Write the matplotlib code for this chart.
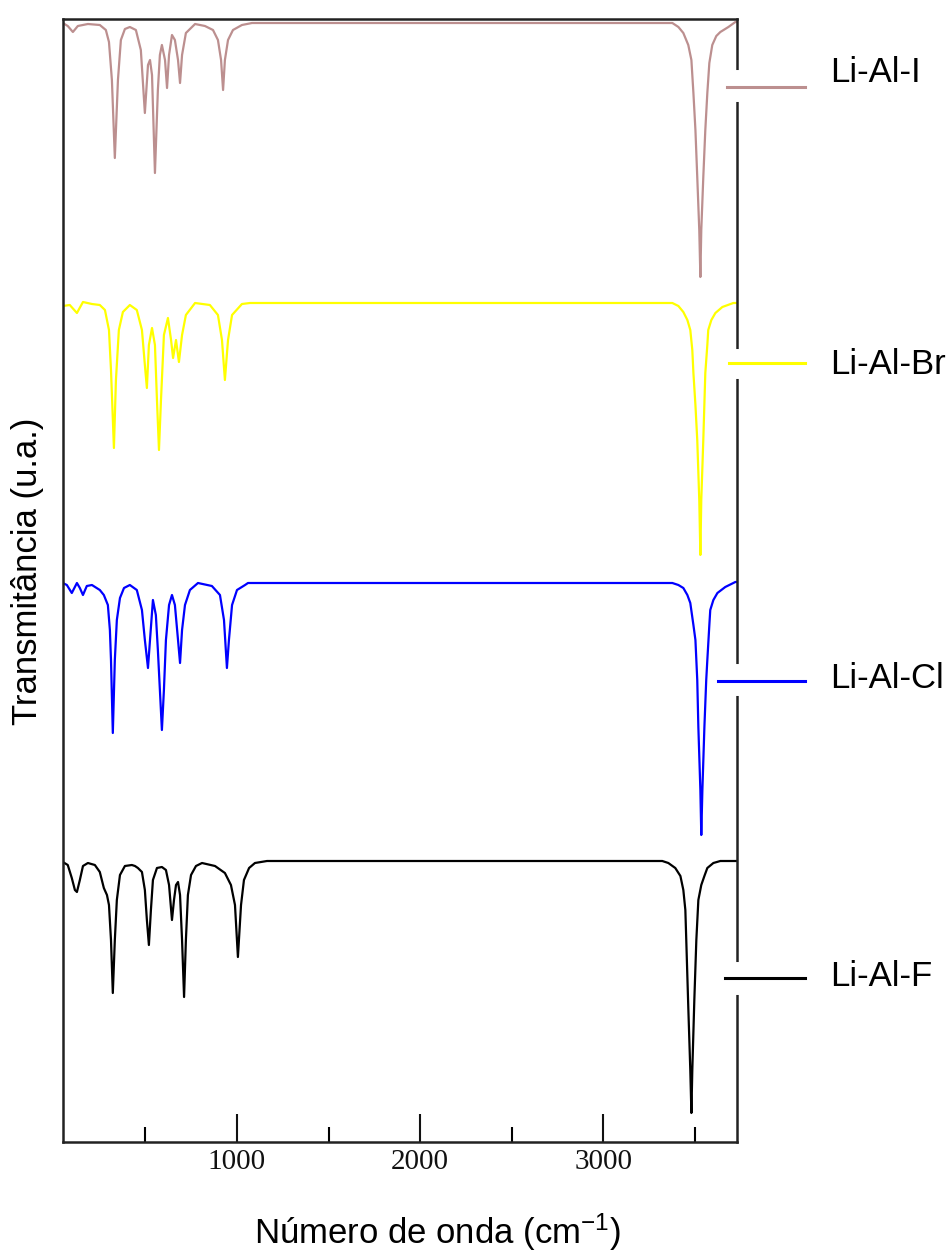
import matplotlib
matplotlib.use("Agg")
import matplotlib.pyplot as plt
from matplotlib.lines import Line2D
import numpy as np

plt.rcParams['font.family'] = ['Liberation Sans', 'DejaVu Sans']
plt.rcParams['mathtext.fontset'] = 'custom'
plt.rcParams['mathtext.rm'] = 'Liberation Sans'
plt.rcParams['mathtext.it'] = 'Liberation Sans'

# ---------------- data (wavenumber cm-1, relative transmittance) ----------------
labels = ["Li-Al-I", "Li-Al-Br", "Li-Al-Cl", "Li-Al-F"]
colors = ["#BC8F8F", "#FFFF00", "#0000FF", "#000000"]
offsets = [11.19, 8.39, 5.59, 2.80]

wn_I = [49, 76, 104, 131, 186, 251, 284, 301, 317, 333, 350, 366, 388, 415, 448, 475, 497, 514,
        525, 536, 552, 568, 579, 590, 607, 618, 629, 645, 661, 678, 689, 700, 721, 771, 825, 869,
        896, 913, 924, 934, 951, 978, 1027, 1082, 3377, 3410, 3437, 3464, 3481, 3492, 3503, 3513,
        3524, 3530, 3535, 3546, 3557, 3568, 3579, 3595, 3617, 3639, 3683, 3721, 3732]
t_I = [0, -0.03, -0.09, -0.03, -0.01, -0.02, -0.07, -0.19, -0.57, -1.35, -0.57, -0.17, -0.06, -0.04,
       -0.07, -0.27, -0.90, -0.42, -0.37, -0.52, -1.50, -0.67, -0.32, -0.22, -0.37, -0.65, -0.32,
       -0.12, -0.17, -0.37, -0.60, -0.32, -0.10, -0.01, -0.03, -0.07, -0.17, -0.37, -0.67, -0.37,
       -0.17, -0.07, -0.02, 0, 0, -0.04, -0.10, -0.22, -0.37, -0.70, -1.07, -1.54, -2.07, -2.54,
       -2.07, -1.54, -1.07, -0.70, -0.40, -0.22, -0.13, -0.09, -0.04, 0.01, 0.01]

wn_Br = [49, 87, 126, 159, 208, 251, 279, 301, 312, 328, 339, 355, 377, 415, 453, 481, 497, 508,
         519, 536, 552, 563, 574, 585, 601, 623, 640, 651, 667, 683, 700, 721, 771, 852, 896, 918,
         934, 951, 973, 1027, 1071, 3377, 3410, 3437, 3459, 3475, 3486, 3492, 3503, 3513, 3524,
         3530, 3535, 3546, 3557, 3568, 3573, 3590, 3612, 3650, 3710, 3732]
t_Br = [-0.03, -0.02, -0.10, 0.01, -0.01, -0.02, -0.07, -0.27, -0.67, -1.45, -0.77, -0.27, -0.09,
        -0.02, -0.07, -0.27, -0.62, -0.85, -0.42, -0.25, -0.42, -0.97, -1.47, -0.97, -0.32, -0.15,
        -0.37, -0.55, -0.37, -0.59, -0.32, -0.12, 0, -0.02, -0.12, -0.37, -0.77, -0.37, -0.12,
        -0.01, 0, 0, -0.03, -0.09, -0.17, -0.27, -0.47, -0.70, -1.02, -1.37, -1.97, -2.52, -1.97,
        -1.37, -0.70, -0.42, -0.27, -0.17, -0.10, -0.04, 0, 0]

wn_Cl = [49, 71, 98, 126, 142, 159, 180, 208, 251, 273, 295, 306, 312, 322, 333, 344, 361, 383,
         415, 453, 481, 497, 514, 525, 541, 557, 568, 579, 590, 601, 612, 629, 645, 661, 678, 689,
         700, 716, 743, 787, 863, 907, 929, 945, 956, 973, 1000, 1044, 1060, 3377, 3410, 3437,
         3459, 3475, 3492, 3503, 3513, 3519, 3530, 3535, 3541, 3552, 3562, 3568, 3579, 3584, 3601,
         3623, 3666, 3721, 3732]
t_Cl = [0, -0.02, -0.10, 0, -0.05, -0.12, -0.03, -0.02, -0.07, -0.12, -0.22, -0.47, -0.77, -1.50,
        -0.77, -0.37, -0.15, -0.05, -0.02, -0.07, -0.27, -0.57, -0.85, -0.57, -0.17, -0.32, -0.67,
        -1.07, -1.47, -1.07, -0.57, -0.22, -0.12, -0.22, -0.57, -0.80, -0.47, -0.22, -0.07, 0,
        -0.03, -0.12, -0.37, -0.85, -0.57, -0.22, -0.07, -0.02, 0, 0, -0.02, -0.05, -0.12, -0.20,
        -0.42, -0.57, -0.97, -1.44, -2.07, -2.52, -2.07, -1.44, -0.97, -0.77, -0.42, -0.27, -0.17,
        -0.10, -0.04, 0.01, 0.01]

wn_F = [49, 76, 98, 115, 126, 142, 159, 186, 224, 251, 273, 290, 301, 312, 322, 333, 344, 361, 388,
        426, 443, 459, 481, 497, 508, 519, 530, 541, 563, 590, 612, 629, 645, 656, 667, 678, 689,
        700, 711, 721, 732, 749, 776, 809, 880, 934, 967, 989, 1005, 1022, 1038, 1066, 1098, 1164,
        3322, 3355, 3393, 3421, 3437, 3448, 3453, 3464, 3475, 3481, 3486, 3497, 3508, 3519, 3535,
        3552, 3568, 3601, 3639, 3732]
t_F = [0, -0.03, -0.16, -0.28, -0.30, -0.18, -0.04, -0.01, -0.03, -0.10, -0.26, -0.33, -0.43, -0.78,
       -1.31, -0.78, -0.38, -0.13, -0.04, -0.03, -0.04, -0.06, -0.10, -0.28, -0.58, -0.83, -0.48,
       -0.18, -0.06, -0.05, -0.08, -0.23, -0.58, -0.38, -0.23, -0.20, -0.33, -0.78, -1.35, -0.78,
       -0.33, -0.13, -0.04, -0.01, -0.04, -0.11, -0.23, -0.43, -0.95, -0.43, -0.18, -0.06, -0.01,
       0.01, 0.01, -0.01, -0.06, -0.14, -0.28, -0.48, -0.78, -1.45, -2.08, -2.51, -2.08, -1.38,
       -0.78, -0.38, -0.23, -0.14, -0.06, -0.01, 0.01, 0.01]

series_wn = [wn_I, wn_Br, wn_Cl, wn_F]
series_t = [t_I, t_Br, t_Cl, t_F]

major_ticks = [1000, 2000, 3000]
minor_ticks = [500, 1500, 2500, 3500]

# ---------------- figure ----------------
W, H = 952, 1255
fig = plt.figure(figsize=(W / 100, H / 100), dpi=100)
ax = fig.add_axes([63 / W, 1 - 1142 / H, (737 - 63) / W, (1142 - 19) / H])

for wn, t, off, c in zip(series_wn, series_t, offsets, colors):
    ax.plot(wn, np.array(t) + off, color=c, lw=1.6, solid_joinstyle='round')

ax.set_xlim(50, 3730)
ax.set_ylim(0, 11.23)
ax.set_yticks([])
ax.set_xticks(major_ticks)
ax.set_xticks(minor_ticks, minor=True)
ax.set_xticklabels([str(v) for v in major_ticks], family='Liberation Serif', fontsize=21)
ax.tick_params(axis='x', which='major', direction='in', length=20, width=1.5, pad=5, colors='#111111')
ax.tick_params(axis='x', which='minor', direction='in', length=11, width=1.5)
for s in ax.spines.values():
    s.set_linewidth(1.8)
    s.set_color('#222222')

fig.text(437 / W, 1 - 1232 / H, 'Número de onda (cm$^{-1}$)', ha='center', va='center', fontsize=25)
fig.text(28 / W, 1 - 571 / H, 'Transmitância (u.a.)', ha='center', va='center', fontsize=25,
         rotation=90)

# legend-like labels outside the right spine
line_y = [87, 363, 681, 978]
text_y = [73, 364, 678, 977]
line_x0 = [727, 729, 718, 725]
gaps = [(73, 98), (352, 375), (667, 692), (965, 991)]
for lab, c, ly, ty, x0, (g0, g1) in zip(labels, colors, line_y, text_y, line_x0, gaps):
    fig.add_artist(Line2D([737 / W, 737 / W], [1 - g0 / H, 1 - g1 / H], color='white', lw=5,
                          transform=fig.transFigure, zorder=10))
    fig.add_artist(Line2D([x0 / W, 805 / W], [1 - ly / H, 1 - ly / H], color=c, lw=2.2,
                          transform=fig.transFigure, zorder=11))
    fig.text(830 / W, 1 - ty / H, lab, ha='left', va='center', fontsize=25)

fig.savefig('out.png', dpi=100)
